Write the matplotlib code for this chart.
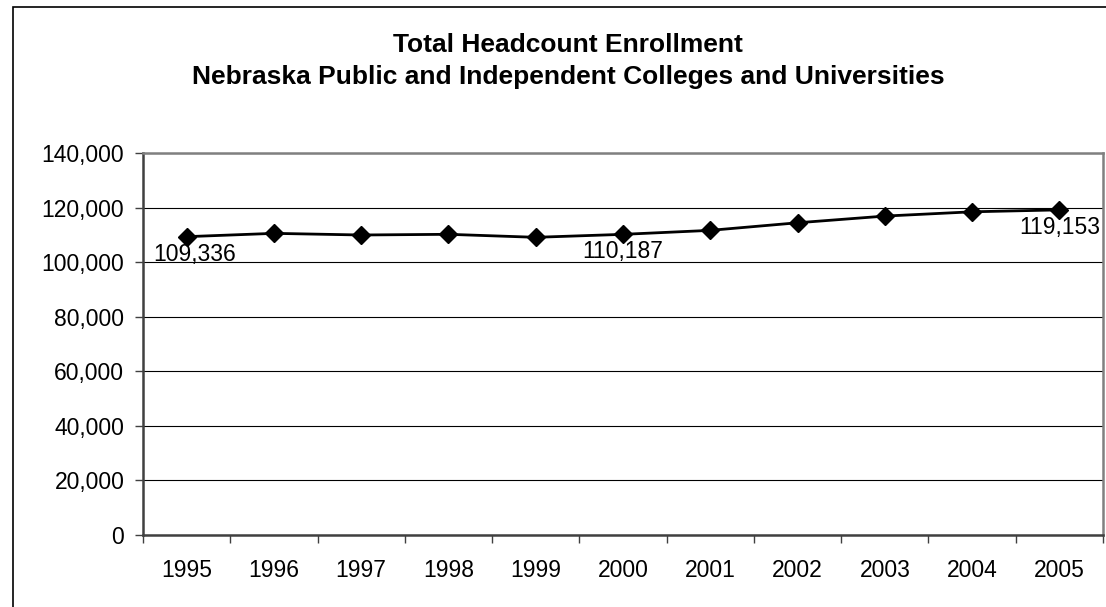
import matplotlib
matplotlib.use("Agg")
import matplotlib.pyplot as plt
from matplotlib.patches import Rectangle
from matplotlib.ticker import FuncFormatter, FixedLocator

years = ["1995", "1996", "1997", "1998", "1999", "2000", "2001", "2002", "2003", "2004", "2005"]
enrollment = [109336, 110550, 109950, 110200, 109100, 110187, 111650, 114430, 116880, 118450, 119153]
labeled_years = ["1995", "2000", "2005"]
title_lines = ["Total Headcount Enrollment", "Nebraska Public and Independent Colleges and Universities"]

W, H = 1106, 607
dpi = 100
plt.rcParams['font.family'] = ['Liberation Sans', 'DejaVu Sans']
fig = plt.figure(figsize=(W / dpi, H / dpi), dpi=dpi)

# outer chart frame
fig.patches.append(Rectangle((13 / W, -0.05), 1.2, (H - 7) / H + 0.05, transform=fig.transFigure,
                             fill=False, edgecolor='black', linewidth=1.2))

left, right, top, bottom = 143, 1103, 153, 535
ax = fig.add_axes([left / W, 1 - bottom / H, (right - left) / W, (bottom - top) / H])

x = list(range(len(years)))
ax.plot(x, enrollment, color='black', linewidth=2.0, marker='D', markersize=9.5,
        markerfacecolor='black', markeredgecolor='black', zorder=3, clip_on=False)

for i, (yr, v) in enumerate(zip(years, enrollment)):
    if yr in labeled_years:
        dx = 6 if i == 0 else 0
        ax.annotate(f"{v:,}", (i, v), xytext=(dx, -12.5), textcoords='offset points',
                    ha='center', va='center', fontsize=16.5, color='black', zorder=4)

ax.set_xlim(-0.5, len(years) - 0.5)
ax.set_ylim(0, 140000)
ax.set_yticks(range(0, 140001, 20000))
ax.yaxis.set_major_formatter(FuncFormatter(lambda v, p: f"{int(v):,}"))
ax.yaxis.grid(True, color='black', linewidth=0.8)
ax.set_axisbelow(True)

ax.xaxis.set_major_locator(FixedLocator([i + 0.5 for i in range(-1, len(years))]))
ax.xaxis.set_major_formatter(FuncFormatter(lambda v, p: ""))
ax.xaxis.set_minor_locator(FixedLocator(x))
ax.set_xticklabels(years, minor=True)
ax.tick_params(axis='x', which='major', length=5.5, width=1, direction='out', color='#404040')
ax.tick_params(axis='x', which='minor', length=0, pad=17, labelsize=16.5)
ax.tick_params(axis='y', length=5.5, width=1, direction='out', color='#404040', labelsize=16.5, pad=8)

for s in ['left', 'bottom']:
    ax.spines[s].set_color('#404040')
    ax.spines[s].set_linewidth(1.8)
for s in ['top', 'right']:
    ax.spines[s].set_color('#808080')
    ax.spines[s].set_linewidth(1.8)

fig.text(568 / W, 1 - 52 / H, title_lines[0], ha='center', va='baseline', fontsize=19, fontweight='bold')
fig.text(568 / W, 1 - 84 / H, title_lines[1], ha='center', va='baseline', fontsize=19, fontweight='bold')

fig.savefig("out.png", dpi=dpi)
